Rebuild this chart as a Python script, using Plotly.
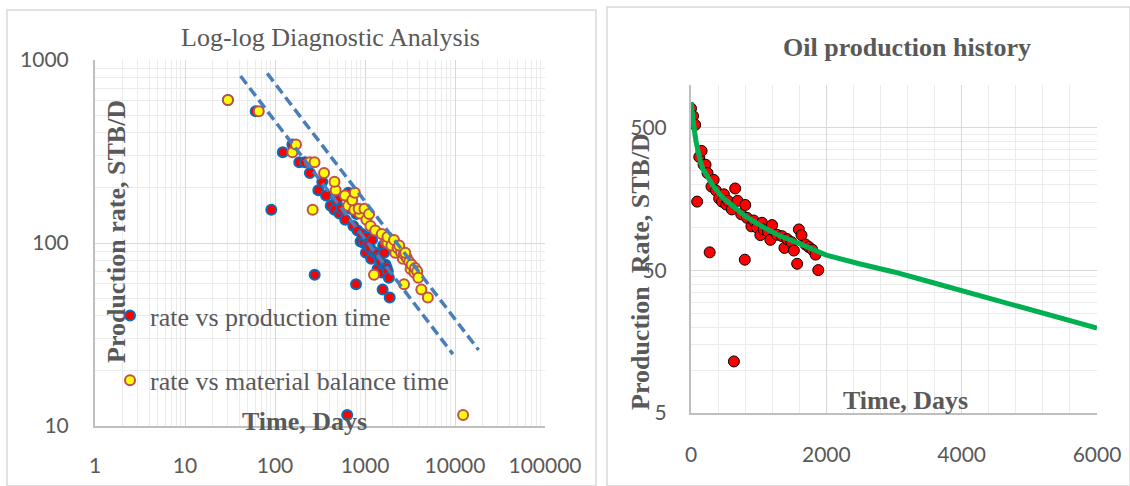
import plotly.graph_objects as go

# ---------------- data ----------------
t_days = [0, 30, 61, 91, 122, 156, 186, 215, 244, 276, 303, 335, 369, 416, 458, 486,
          521, 545, 603, 634, 653, 688, 742, 795, 802, 827, 893, 926, 975, 1025, 1049,
          1074, 1138, 1173, 1198, 1272, 1346, 1381, 1420, 1485, 1520, 1569, 1594, 1633,
          1693, 1742, 1792, 1841, 1881]
rate_stbd = [685, 605, 525, 152, 313, 345, 276, 276, 241, 67, 194, 216, 182, 160, 152, 171,
             145, 154, 134, 11.5, 188, 154, 124, 59.5, 144, 117, 102, 112, 100, 88.5, 108,
             97, 94, 82, 104, 89, 87, 72, 83, 79, 69, 55.7, 97, 88.5,
             76, 73, 70, 64.6, 50.3]
tmb_days = [0, 30, 66, 262, 156, 171, 244, 275, 351, 1260, 472, 458, 600, 650, 760, 721,
            880, 851, 1037, 12300, 771, 986, 1150, 2716, 1111, 1300, 1700, 1536, 1780, 2168, 1778,
            1965, 2300, 2630, 2100, 2512, 2700, 3210, 2910, 3100, 3540, 4225, 2400, 2800,
            3300, 3600, 3800, 3910, 4990]

# forecast curve
fit_t = [0, 15, 30, 50, 75, 100, 140, 175, 250, 325, 450, 620, 800, 1060, 1300, 1550,
         2000, 2500, 3000, 3500, 4000, 4500, 5000, 5500, 6000]
fit_q = [760, 640, 560, 480, 400, 345, 290, 258, 225, 197, 165, 140, 120, 101, 88, 79,
         64, 55.5, 48.8, 42, 36, 31, 26.4, 22.8, 19.7]

# dashed guide lines on the log-log plot
guide1_t = [41.4, 9480]
guide1_q = [817, 24.7]
guide2_t = [82, 18300]
guide2_q = [845, 26.0]

x_ticks_log = [1, 10, 100, 1000, 10000, 100000]
y_ticks_log = [10, 100, 1000]
x_ticks_lin = [0, 2000, 4000, 6000]
y_ticks_r = [5, 50, 500]

# ---------------- layout helpers ----------------
W, H = 1130, 486
def fx(p):
    return p / W
def fy(p):
    return 1 - p / H

GRAY = "#595959"
SERIF = "Liberation Serif"
SANS = "Lato"
MAJ = "#d9d9d9"
MIN = "#ebebeb"

fig = go.Figure()

# left chart
fig.add_trace(go.Scatter(
    x=t_days, y=rate_stbd, mode="markers", name="rate vs production time",
    legendgroup="a",
    marker=dict(size=10, color="#ff0000", line=dict(color="#0070c0", width=2)),
    xaxis="x", yaxis="y"))
fig.add_trace(go.Scatter(
    x=tmb_days, y=rate_stbd, mode="markers", name="rate vs material balance time",
    legendgroup="b",
    marker=dict(size=10, color="#ffff00", line=dict(color="#c0504d", width=2)),
    xaxis="x", yaxis="y"))
for gt, gq in ((guide1_t, guide1_q), (guide2_t, guide2_q)):
    fig.add_trace(go.Scatter(
        x=gt, y=gq, mode="lines", showlegend=False,
        line=dict(color="#4a7ebb", width=3.5, dash="10px,5px"),
        xaxis="x", yaxis="y"))

# right chart
fig.add_trace(go.Scatter(
    x=t_days, y=rate_stbd, mode="markers", showlegend=False,
    marker=dict(size=11, color="#ff0000", line=dict(color="#000000", width=1)),
    xaxis="x2", yaxis="y2"))
fig.add_trace(go.Scatter(
    x=fit_t, y=fit_q, mode="lines", showlegend=False,
    line=dict(color="#00b050", width=5),
    xaxis="x2", yaxis="y2"))

tickfont = dict(family=SANS, size=21, color=GRAY)

log_minor_x = [k * 10 ** d for d in range(0, 5) for k in range(2, 10)]
log_minor_y = [k * 10 ** d for d in range(1, 3) for k in range(2, 10)]
r_minor_y = [5 * k for k in range(2, 10)] + [50 * k for k in range(2, 10)] + [1000]

common = dict(showgrid=True, gridcolor=MAJ, gridwidth=1, showline=True,
              linecolor="#bfbfbf", linewidth=2, zeroline=False, tickfont=tickfont,
              ticks="", automargin=False, tickmode="array")

fig.update_layout(
    width=W, height=H, margin=dict(l=0, r=0, t=0, b=0, pad=0, autoexpand=False),
    paper_bgcolor="white", plot_bgcolor="white",
    showlegend=True,
    legend=dict(x=fx(110), y=fy(292), xanchor="left", yanchor="top",
                font=dict(family=SERIF, size=26, color=GRAY),
                bgcolor="rgba(0,0,0,0)", tracegroupgap=28, itemwidth=30),
    xaxis=dict(type="log", domain=[fx(95), fx(545)], range=[0, 5],
               tickvals=x_ticks_log, ticktext=[str(v) for v in x_ticks_log],
               minor=dict(tickvals=log_minor_x, showgrid=True, gridcolor=MIN, gridwidth=1),
               ticklabelstandoff=20, anchor="y", **common),
    yaxis=dict(type="log", domain=[fy(426), fy(60)], range=[1, 3],
               tickvals=y_ticks_log, ticktext=[str(v) for v in y_ticks_log],
               minor=dict(tickvals=log_minor_y, showgrid=True, gridcolor=MIN, gridwidth=1),
               ticklabelstandoff=20, anchor="x", **common),
    xaxis2=dict(domain=[fx(691), fx(1097)], range=[0, 6000],
                tickvals=x_ticks_lin, ticktext=[str(v) for v in x_ticks_lin],
                minor=dict(tick0=0, dtick=400, showgrid=True, gridcolor=MIN, gridwidth=1),
                ticklabelstandoff=22, anchor="y2", **common),
    yaxis2=dict(type="log", domain=[fy(413), fy(85)], range=[0.69897, 3],
                tickvals=y_ticks_r, ticktext=[str(v) for v in y_ticks_r],
                minor=dict(tickvals=r_minor_y, showgrid=True, gridcolor=MIN, gridwidth=1),
                ticklabelstandoff=18, anchor="x2", **common),
)

def ann(text, x, y, size=26, angle=0):
    fig.add_annotation(text=text, x=fx(x), y=fy(y), xref="paper", yref="paper",
                       showarrow=False, textangle=angle, xanchor="center", yanchor="middle",
                       font=dict(family=SERIF, size=size, color=GRAY))

ann("Log-log Diagnostic Analysis", 330, 38)
ann("<b>Production rate, STB/D</b>", 116, 232, angle=-90)
ann("<b>Time, Days</b>", 304, 421)
ann("<b>Oil production history</b>", 907, 47)
ann("<b>Production\u00a0 Rate, STB/D</b>", 640, 272, angle=-90)
ann("<b>Time, Days</b>", 905, 400)

# chart-area borders
for x0, y0, x1, y1 in ((7, 10, 596, 486), (607, 7, 1130, 486)):
    fig.add_shape(type="rect", xref="paper", yref="paper",
                  x0=fx(x0), x1=fx(x1), y0=fy(y1), y1=fy(y0),
                  line=dict(color="#d9d9d9", width=1.5), fillcolor="rgba(0,0,0,0)")

fig.write_html("out.html")
